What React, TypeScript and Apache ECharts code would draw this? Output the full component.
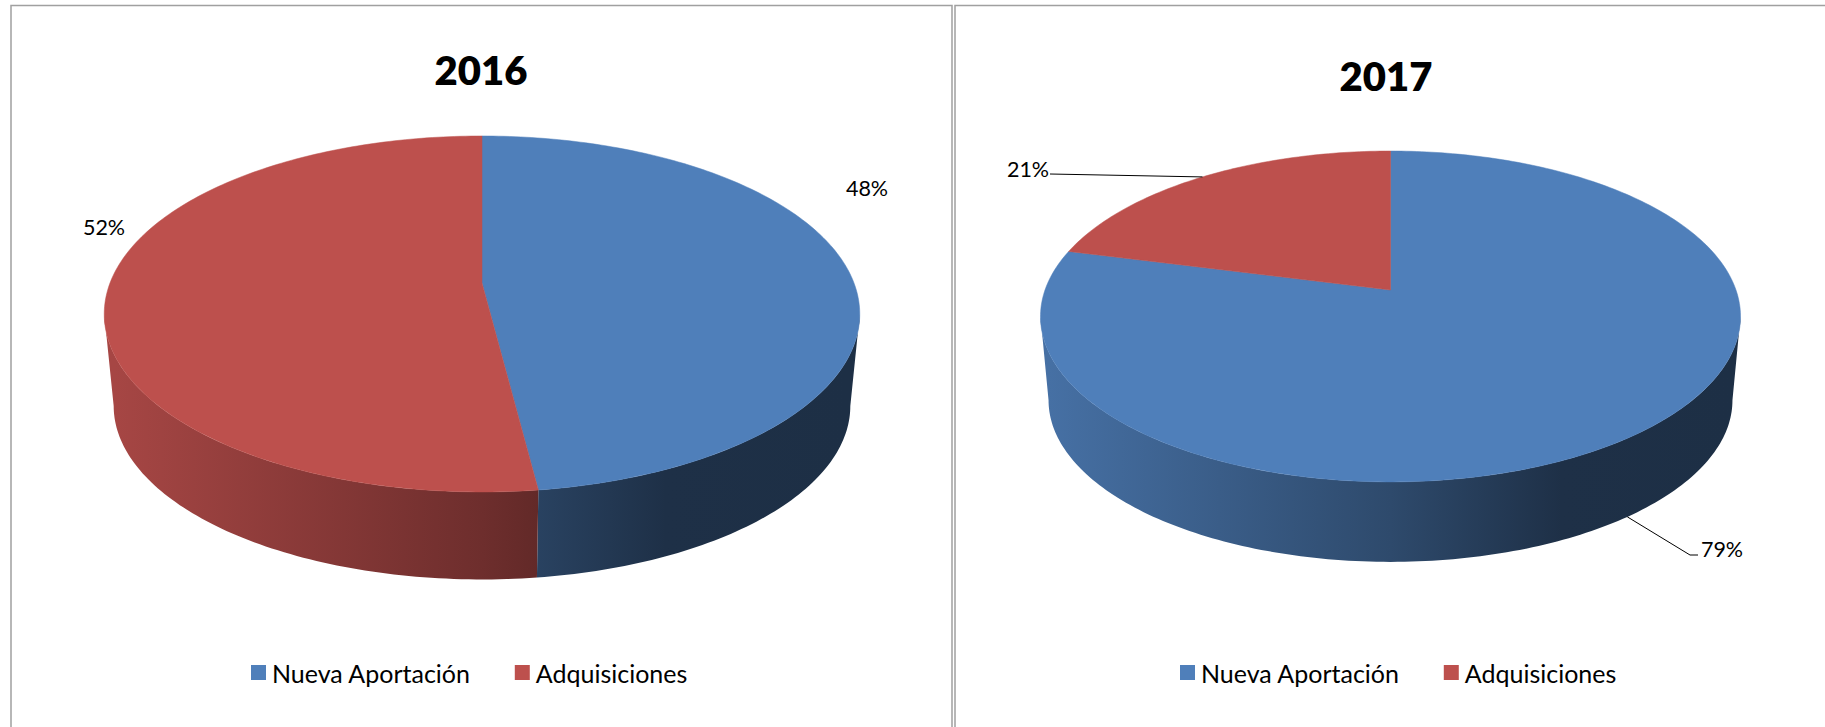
import React, { useEffect, useRef } from "react";
import * as echarts from "echarts";

const categories = ["Nueva Aportación", "Adquisiciones"];
const years = ["2016", "2017"];
const values2016 = [48, 52];
const values2017 = [79, 21];
const baseColors = [
  [79, 127, 186],
  [189, 80, 77],
];

// Layout of each perspective pie (not data)
const panels = [
  {
    values: values2016, cx: 482, apexY: 283, R: 372, S: 172.6, k: 0.174, depth: 92.7, f: 0.975,
    titleX: 481, titleY: 70, legendLeft: 251,
    labels: [
      { x: 867, y: 188 },
      { x: 104, y: 227 },
    ],
    leaders: [null, null],
  },
  {
    values: values2017, cx: 1390.5, apexY: 290, R: 345.5, S: 161.2, k: 0.16, depth: 84.4, f: 0.977,
    titleX: 1386, titleY: 76, legendLeft: 1180,
    labels: [
      { x: 1722, y: 549 },
      { x: 1028, y: 169 },
    ],
    leaders: [
      { bottom: true, via: [[1690, 555], [1698, 555]] },
      { bottom: false, via: [[1050, 174]] },
    ],
  },
];

const shade: number[][] = [
  [0, 0.88],
  [0.5, 0.58],
  [0.75, 0.38],
  [1, 0.37],
];

const FONT = "Lato";

function project(p: any, theta: number, lower: boolean): number[] {
  const u = Math.sin(theta);
  const v = -Math.cos(theta);
  const w = 1 - p.k * v;
  const s = lower ? p.f : 1;
  const off = lower ? p.depth : 0;
  return [p.cx + (s * p.R * u) / w, p.apexY + off + (s * p.S * v) / w];
}

function arcPoints(p: any, a: number, b: number, lower: boolean): number[][] {
  const n = Math.max(2, Math.ceil(((b - a) * 180) / Math.PI));
  const pts: number[][] = [];
  for (let i = 0; i <= n; i++) pts.push(project(p, a + ((b - a) * i) / n, lower));
  return pts;
}

function rgb(c: number[], m: number) {
  return `rgb(${Math.round(c[0] * m)},${Math.round(c[1] * m)},${Math.round(c[2] * m)})`;
}

function makeRender(p: any, idx: number) {
  return () => {
    const total = p.values.reduce((s: number, v: number) => s + v, 0);
    const before = p.values.slice(0, idx).reduce((s: number, v: number) => s + v, 0);
    const a = (before / total) * 2 * Math.PI;
    const b = ((before + p.values[idx]) / total) * 2 * Math.PI;
    const base = baseColors[idx];
    const children: any[] = [];

    // Visible wall: between the two tangent points of the disc
    const tan = Math.acos(-p.k);
    const wa = Math.max(a, tan);
    const wb = Math.min(b, 2 * Math.PI - tan);
    if (wb > wa) {
      const pts = arcPoints(p, wa, wb, false).concat(arcPoints(p, wa, wb, true).reverse());
      const sx = p.R * p.f * 1.013;
      children.push({
        type: "polygon",
        shape: { points: pts },
        style: {
          fill: {
            type: "linear",
            x: p.cx - sx,
            y: 0,
            x2: p.cx + sx,
            y2: 0,
            global: true,
            colorStops: shade.map((s) => ({ offset: s[0], color: rgb(base, s[1]) })),
          },
        },
      });
    }

    // Top face
    children.push({
      type: "polygon",
      shape: { points: [[p.cx, p.apexY], ...arcPoints(p, a, b, false)] },
      style: { fill: rgb(base, 1), stroke: rgb(base, 1), lineWidth: 0.5 },
    });

    // Leader line, anchored at the middle of the slice
    const ld = p.leaders[idx];
    if (ld) {
      const anchor = project(p, (a + b) / 2, ld.bottom);
      children.push({
        type: "polyline",
        shape: { points: [anchor, ...ld.via] },
        style: { stroke: "#000", lineWidth: 1, fill: "none" },
      });
    }

    // Value label
    children.push({
      type: "text",
      x: p.labels[idx].x,
      y: p.labels[idx].y,
      style: {
        text: `${p.values[idx]}%`,
        fontFamily: FONT,
        fontSize: 21.5,
        fill: "#000",
        align: "center",
        verticalAlign: "middle",
      },
    });
    return { type: "group", children };
  };
}

const series: any[] = [];
panels.forEach((p, pi) => {
  categories.forEach((name, i) => {
    series.push({
      type: "custom",
      name,
      coordinateSystem: "none",
      silent: true,
      itemStyle: { color: rgb(baseColors[i], 1) },
      data: [{ name, value: [p.values[i]] }],
      renderItem: makeRender(p, i),
      z: 2 + pi,
    });
  });
});

export default function App() {
  const ref = useRef<HTMLDivElement>(null);
  useEffect(() => {
    document.body.style.margin = "0";
    document.body.style.overflow = "hidden";
    const chart = echarts.init(ref.current!, null, { renderer: "svg" });
    chart.setOption({
      animation: false,
      backgroundColor: "#fff",
      title: panels.map((p, i) => ({
        text: years[i],
        left: p.titleX,
        top: p.titleY,
        textAlign: "center",
        textVerticalAlign: "middle",
        padding: 0,
        textStyle: { fontFamily: FONT, fontSize: 40, fontWeight: 800, color: "#000" },
      })),
      legend: panels.map((p) => ({
        data: categories,
        left: p.legendLeft,
        top: 660,
        padding: 0,
        icon: "rect",
        itemWidth: 15,
        itemHeight: 15,
        itemGap: 44,
        selectedMode: false,
        textStyle: { fontFamily: FONT, fontSize: 25, color: "#000", padding: [0, 0, 0, 1] },
      })),
      graphic: [
        {
          type: "rect",
          silent: true,
          z: 0,
          shape: { x: 11, y: 5.5, width: 941, height: 800 },
          style: { fill: "none", stroke: "#a0a0a0", lineWidth: 1.5 },
        },
        {
          type: "rect",
          silent: true,
          z: 0,
          shape: { x: 955, y: 5.5, width: 1000, height: 800 },
          style: { fill: "none", stroke: "#a0a0a0", lineWidth: 1.5 },
        },
      ],
      series,
    });
    return () => chart.dispose();
  }, []);
  return <div ref={ref} style={{ position: "fixed", left: 0, top: 0, width: 1825, height: 727 }} />;
}
